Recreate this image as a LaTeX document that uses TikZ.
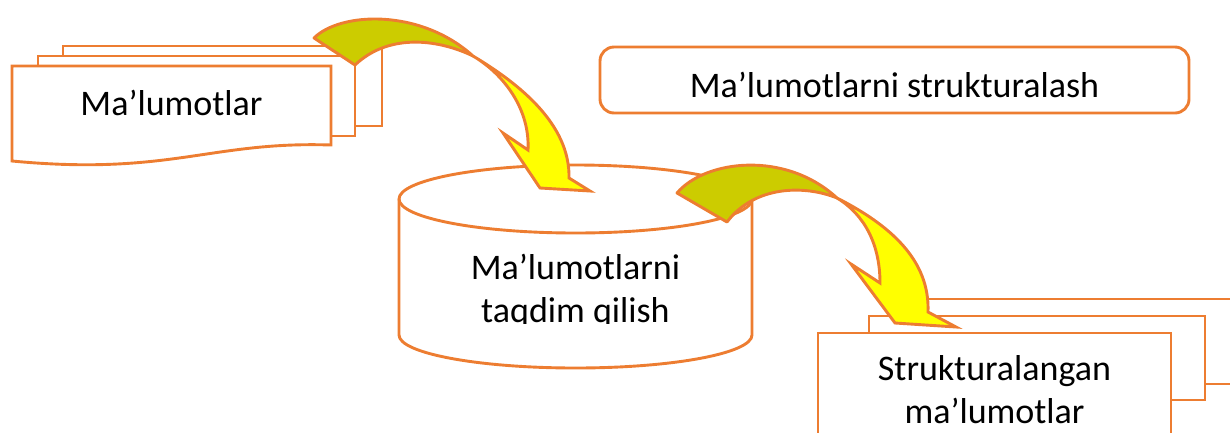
\documentclass[tikz,border=0pt]{standalone}
\usepackage{fontspec}
\setmainfont{Carlito}
\definecolor{edge}{HTML}{ED7D31}
\definecolor{olive}{RGB}{204,204,0}
\definecolor{brightyellow}{RGB}{255,255,0}
\begin{document}
\begin{tikzpicture}[x=1pt, y=-1pt,
  outl/.style={draw=edge, line width=2.9pt, line join=miter},
  page/.style={outl, fill=white},
  label/.style={font={\fontsize{36}{43}\selectfont}, text=black, inner sep=0pt, align=center},
  backface/.style={outl, fill=olive, line join=round},
  frontface/.style={outl, fill=brightyellow, line join=miter}]
\useasboundingbox (0,0) rectangle (1230,432);
\begin{scope}
\clip (0,0) rectangle (1230,432);

% stacked source documents
\draw[page] (63,46) rectangle (382,126);
\draw[page] (38,56) rectangle (355,136);
\draw[page] (12,66) -- (331,66) -- (331,145)
  .. controls (210,141) and (170,176) .. (12,161) -- cycle;
\node[label, anchor=base] (src) at (171.5,115) {Ma’lumotlar};

% process box
\node[outl, rounded corners=14pt, minimum width=589pt, minimum height=66pt,
      inner sep=0pt] (proc) at (894.5,80) {};
\node[label, anchor=base] (proctext) at (894.5,97) {Ma’lumotlarni strukturalash};

% storage cylinder
\draw[page] (399,199) -- (399,335)
  arc[start angle=180, end angle=360, x radius=176.5pt, y radius=33pt]
  -- (752,199)
  arc[start angle=0, end angle=180, x radius=176.5pt, y radius=34pt] -- cycle;
\draw[outl] (399,199)
  arc[start angle=180, end angle=360, x radius=176.5pt, y radius=34pt];
\begin{scope}
\clip (380,150) rectangle (770,323);
% base anchor sits on the last line
\node[label, anchor=base] (store) at (575.5,322) {Ma’lumotlarni\\taqdim qilish};
\end{scope}

% stacked result documents
\draw[page] (920,299) rectangle (1260,384);
\draw[page] (869,316) rectangle (1205,400);
\draw[page] (818,333) rectangle (1171,470);
\node[label, anchor=base] (result) at (994.5,423) {Strukturalangan\\ma’lumotlar};

% curved block arrow: documents -> cylinder
\draw[backface] (314,38) .. controls (340,12) and (420,8) .. (473,56)
  .. controls (440,40) and (390,32) .. (355,65) -- cycle;
\draw[frontface] (473,56) .. controls (530,90) and (570,130) .. (569,178)
  -- (590,191) -- (540,188) -- (503,133) -- (528,150)
  .. controls (530,110) and (505,75) .. (473,56) -- cycle;

% curved block arrow: cylinder -> result documents
\draw[backface] (677,193) .. controls (705,160) and (785,150) .. (837,198)
  .. controls (805,185) and (755,185) .. (727,222) -- cycle;
\draw[frontface] (837,198) .. controls (890,225) and (930,260) .. (928,312)
  -- (956,327) -- (895,323) -- (851,264) -- (880,283)
  .. controls (880,245) and (865,215) .. (837,198) -- cycle;
\end{scope}
\end{tikzpicture}
\end{document}
